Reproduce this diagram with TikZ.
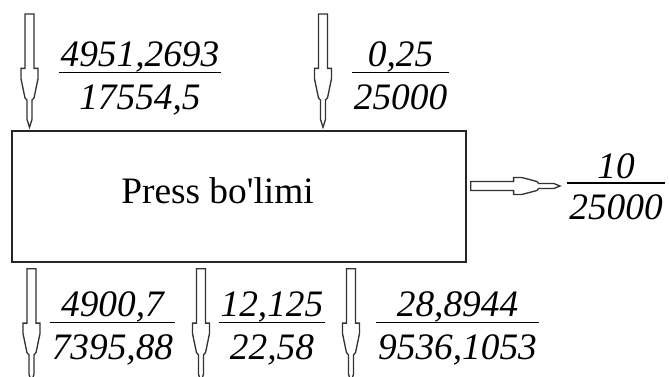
\documentclass[tikz,border=0pt]{standalone}
\usepackage{fontspec}
\usepackage{tikz}
\usetikzlibrary{calc}
\newfontfamily\timesfont{Liberation Serif}[ItalicFont={Liberation Serif Italic}]
% fraction: mass over flow
\newcommand{\flow}[2]{{\renewcommand{\arraystretch}{0}\setlength{\tabcolsep}{1.5pt}\setlength{\arrayrulewidth}{1.1pt}%
\begin{tabular}{c}\rule[-3pt]{0pt}{31pt}#1\\\hline\rule[-4pt]{0pt}{31.2pt}#2\end{tabular}}}

\begin{document}
\begin{tikzpicture}[
    x=0.75pt, y=-0.75pt,
    font=\timesfont\fontsize{28}{32}\selectfont,
    unit/.style={rectangle, draw=black!85, line width=1.2pt, minimum width=340.5pt, minimum height=98.25pt, inner sep=0pt},
    frac/.style={inner sep=0pt, font=\timesfont\itshape\fontsize{28}{32}\selectfont},
    hollow/.style={draw=black!80, line width=1pt, to path={
        ($(\tikztostart)!3.4pt!90:(\tikztotarget)$)
        -- ($(\tikztostart)!0.48!(\tikztotarget)!3.4pt!90:(\tikztotarget)$)
        -- ($(\tikztostart)!0.48!(\tikztotarget)!6.4pt!90:(\tikztotarget)$)
        -- ($(\tikztostart)!0.57!(\tikztotarget)!6.4pt!90:(\tikztotarget)$)
        -- ($(\tikztostart)!0.74!(\tikztotarget)!3.4pt!90:(\tikztotarget)$)
        -- ($(\tikztostart)!0.76!(\tikztotarget)!1.9pt!90:(\tikztotarget)$)
        -- ($(\tikztostart)!0.93!(\tikztotarget)!1.9pt!90:(\tikztotarget)$)
        -- (\tikztotarget)
        -- ($(\tikztostart)!0.93!(\tikztotarget)!1.9pt!-90:(\tikztotarget)$)
        -- ($(\tikztostart)!0.76!(\tikztotarget)!1.9pt!-90:(\tikztotarget)$)
        -- ($(\tikztostart)!0.74!(\tikztotarget)!3.4pt!-90:(\tikztotarget)$)
        -- ($(\tikztostart)!0.57!(\tikztotarget)!6.4pt!-90:(\tikztotarget)$)
        -- ($(\tikztostart)!0.48!(\tikztotarget)!6.4pt!-90:(\tikztotarget)$)
        -- ($(\tikztostart)!0.48!(\tikztotarget)!3.4pt!-90:(\tikztotarget)$)
        -- ($(\tikztostart)!3.4pt!-90:(\tikztotarget)$)
        -- cycle}}
]
\useasboundingbox (0,0) rectangle (669,376);

% press unit
\node[unit] (box) at (239,196.5) {};
\node[anchor=base] (lbl) at (217.5,203) {Press bo\symbol{39}limi};

% ends of the streams
\coordinate (in1) at (29.5,14);
\coordinate (in2) at (323,14);
\coordinate (out1) at (31.5,382);
\coordinate (out2) at (201,382);
\coordinate (out3) at (351,382);
\coordinate (out4) at (560,186);

\draw[hollow] (in1) to ([yshift=2.2pt]box.north -| in1);
\draw[hollow] (in2) to ([yshift=2.2pt]box.north -| in2);
\draw[hollow] ([yshift=-4.5pt]box.south -| out1) to (out1);
\draw[hollow] ([yshift=-4.5pt]box.south -| out2) to (out2);
\draw[hollow] ([yshift=-4.5pt]box.south -| out3) to (out3);
\draw[hollow] ([xshift=3pt]box.east |- out4) to (out4);

% stream values
\node[frac] (f1) at (140,72) {\flow{4951,2693}{17554,5}};
\node[frac] (f2) at (400.5,72) {\flow{0,25}{25000}};
\node[frac] (f3) at (112.5,322) {\flow{4900,7}{7395,88}};
\node[frac] (f4) at (272,322) {\flow{12,125}{22,58}};
\node[frac] (f5) at (457.5,322) {\flow{28,8944}{9536,1053}};
\node[frac] (f6) at (616,183) {\flow{10}{25000}};
\end{tikzpicture}
\end{document}
